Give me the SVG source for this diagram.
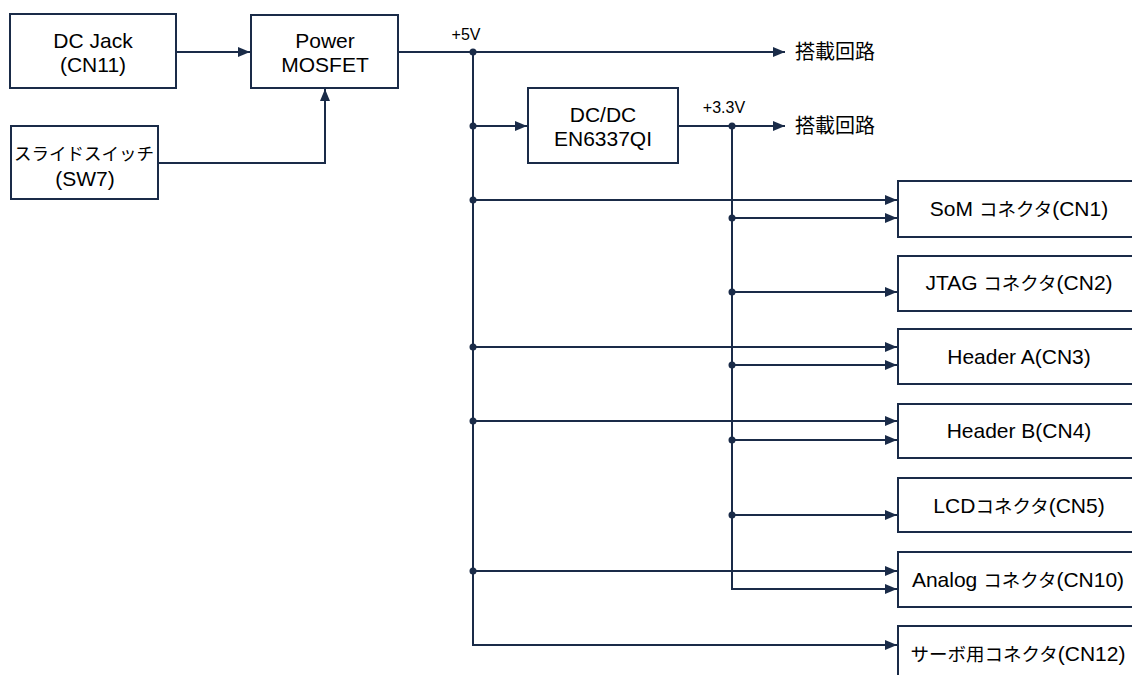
<svg xmlns="http://www.w3.org/2000/svg" width="1132" height="675" viewBox="0 0 1132 675">
<style>
.box{fill:#fff;stroke:#1a2b48;stroke-width:2}
.t{font-family:"Liberation Sans","Noto Sans CJK JP",sans-serif;font-size:21px;fill:#000;text-anchor:middle}
.k{font-family:"Noto Sans CJK JP",sans-serif;font-size:18.5px}
.k2{font-family:"Noto Sans CJK JP",sans-serif;font-size:17.5px}
.s{font-family:"Liberation Sans","Noto Sans CJK JP",sans-serif;font-size:16px;fill:#000;text-anchor:middle}
.j{font-family:"Noto Sans CJK JP",sans-serif;font-size:20px;fill:#000}
.w{fill:none;stroke:#1a2b48;stroke-width:2}
.a{marker-end:url(#arr)}
.d{fill:#1a2b48}
</style>
<defs>
<marker id="arr" markerUnits="userSpaceOnUse" markerWidth="13" markerHeight="11" refX="12" refY="5" orient="auto">
<path d="M0,0 L12,5 L0,10 z" fill="#1a2b48"/>
</marker>
</defs>
<rect width="1132" height="675" fill="#fff"/>
<g id="connectors">
<path class="w a" d="M176,52 H250"/>
<path class="w a" d="M158,163 H325 V89"/>
<path class="w a" d="M398,52 H785"/>
<path class="w a" d="M473,52 V645 H897"/>
<path class="w a" d="M473,126 H527"/>
<path class="w a" d="M678,126 H785"/>
<path class="w a" d="M732,126 V589 H897"/>
<path class="w a" d="M473,200 H897"/>
<path class="w a" d="M473,347 H897"/>
<path class="w a" d="M473,421 H897"/>
<path class="w a" d="M473,571 H897"/>
<path class="w a" d="M732,218 H897"/>
<path class="w a" d="M732,292 H897"/>
<path class="w a" d="M732,365 H897"/>
<path class="w a" d="M732,440 H897"/>
<path class="w a" d="M732,515 H897"/>
<g class="d">
<circle cx="473" cy="52" r="3.5"/>
<circle cx="473" cy="126" r="3.5"/>
<circle cx="473" cy="200" r="3.5"/>
<circle cx="473" cy="347" r="3.5"/>
<circle cx="473" cy="421" r="3.5"/>
<circle cx="473" cy="571" r="3.5"/>
<circle cx="732" cy="126" r="3.5"/>
<circle cx="732" cy="218" r="3.5"/>
<circle cx="732" cy="292" r="3.5"/>
<circle cx="732" cy="365" r="3.5"/>
<circle cx="732" cy="440" r="3.5"/>
<circle cx="732" cy="515" r="3.5"/>
</g>
<text class="s" x="466" y="40">+5V</text>
<text class="s" x="724" y="113">+3.3V</text>
<text class="j" x="795" y="59">搭載回路</text>
<text class="j" x="795" y="133">搭載回路</text>
</g>
<g id="dcjack">
<rect class="box" x="10" y="14" width="166" height="74"/>
<text class="t" x="93" y="48">DC Jack</text>
<text class="t" x="93" y="72">(CN11)</text>
</g>
<g id="mosfet">
<rect class="box" x="251" y="15" width="147" height="73"/>
<text class="t" x="325" y="48">Power</text>
<text class="t" x="325" y="72">MOSFET</text>
</g>
<g id="sw7">
<rect class="box" x="11" y="126" width="147" height="73"/>
<text class="t" x="84" y="160"><tspan class="k2">スライドスイッチ</tspan></text>
<text class="t" x="85" y="186">(SW7)</text>
</g>
<g id="dcdc">
<rect class="box" x="528" y="88" width="150" height="75"/>
<text class="t" x="603" y="122">DC/DC</text>
<text class="t" x="603" y="146">EN6337QI</text>
</g>
<g id="cn1">
<rect class="box" x="898" y="181" width="242" height="56"/>
<text class="t" x="1019" y="216">SoM <tspan class="k">コネクタ</tspan>(CN1)</text>
</g>
<g id="cn2">
<rect class="box" x="898" y="256" width="242" height="55"/>
<text class="t" x="1019" y="290">JTAG <tspan class="k">コネクタ</tspan>(CN2)</text>
</g>
<g id="cn3">
<rect class="box" x="898" y="329" width="242" height="55"/>
<text class="t" x="1019" y="364">Header A(CN3)</text>
</g>
<g id="cn4">
<rect class="box" x="898" y="404" width="242" height="54"/>
<text class="t" x="1019" y="438">Header B(CN4)</text>
</g>
<g id="cn5">
<rect class="box" x="898" y="478" width="242" height="54"/>
<text class="t" x="1019" y="513">LCD<tspan class="k">コネクタ</tspan>(CN5)</text>
</g>
<g id="cn10">
<rect class="box" x="898" y="552" width="242" height="55"/>
<text class="t" x="1018" y="587">Analog <tspan class="k">コネクタ</tspan>(CN10)</text>
</g>
<g id="cn12">
<rect class="box" x="898" y="626" width="242" height="60"/>
<text class="t" x="1018" y="661"><tspan class="k">サーボ用コネクタ</tspan>(CN12)</text>
</g>
</svg>
